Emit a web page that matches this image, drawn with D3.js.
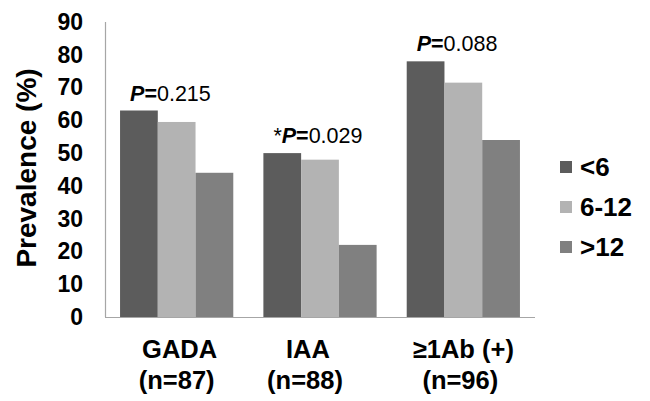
<!DOCTYPE html>
<html>
<head>
<meta charset="utf-8">
<script src="https://cdn.jsdelivr.net/npm/d3@7"></script>
<style>
  html, body { margin: 0; padding: 0; background: #fff; }
  svg { display: block; }
  text { font-family: "Liberation Sans", Arial, sans-serif; fill: #000; }
</style>
</head>
<body>
<svg id="chart" width="650" height="401"></svg>
<script>
// ---- data ----
const categories = ["GADA", "IAA", "\u22651Ab (+)"];
const sampleSizes = ["(n=87)", "(n=88)", "(n=96)"];
const seriesNames = ["<6", "6-12", ">12"];
const valuesLt6 = [63, 50, 78];
const values6to12 = [59.5, 48, 71.5];
const valuesGt12 = [44, 22, 54];
const pPrefix = ["", "*", ""];
const pValues = ["0.215", "0.029", "0.088"];
const yTicks = [0, 10, 20, 30, 40, 50, 60, 70, 80, 90];

const seriesValues = [valuesLt6, values6to12, valuesGt12];
const colors = ["#5c5c5c", "#b3b3b3", "#808080"];

const svg = d3.select("#chart");

const x0 = d3.scaleBand().domain(categories).range([105, 535])
  .paddingInner(0.21).paddingOuter(0.105);
const x1 = d3.scaleBand().domain(seriesNames).range([0, x0.bandwidth()]).padding(0);
const y = d3.scaleLinear().domain([0, 90]).range([317, 22]);

// y tick labels
const yAxis = d3.axisLeft(y).tickValues(yTicks).tickSize(0).tickPadding(0).tickFormat(d3.format("d"));
const gy = svg.append("g").attr("transform", "translate(83,0)").call(yAxis);
gy.select(".domain").remove();
gy.selectAll("text")
  .style("font-family", "'Liberation Sans', Arial, sans-serif")
  .style("font-size", "23px").style("font-weight", "bold").attr("fill", "#000");

// axis lines
svg.append("line").attr("x1", 105.5).attr("x2", 105.5).attr("y1", y(90)).attr("y2", y(0))
  .attr("stroke", "#a6a6a6").attr("stroke-width", 1.2);
svg.append("line").attr("x1", 105).attr("x2", 535).attr("y1", y(0) + 0.5).attr("y2", y(0) + 0.5)
  .attr("stroke", "#a6a6a6").attr("stroke-width", 1.2);

// bars
const groups = svg.append("g").selectAll("g").data(categories).join("g")
  .attr("transform", d => `translate(${x0(d)},0)`);
groups.selectAll("rect")
  .data((d, i) => seriesNames.map((s, j) => ({ s, v: seriesValues[j][i], j })))
  .join("rect")
  .attr("x", d => x1(d.s))
  .attr("width", x1.bandwidth())
  .attr("y", d => y(d.v))
  .attr("height", d => y(0) - y(d.v))
  .attr("fill", d => colors[d.j]);

// P annotations
categories.forEach((c, i) => {
  const maxV = d3.max(seriesValues, s => s[i]);
  const t = svg.append("text")
    .attr("x", x0(c) + 10)
    .attr("y", y(maxV) - 10)
    .style("font-size", "21.5px");
  if (pPrefix[i]) t.append("tspan").text(pPrefix[i]);
  t.append("tspan").style("font-weight", "bold").style("font-style", "italic").text("P");
  t.append("tspan").style("font-weight", "bold").text("=");
  t.append("tspan").text(pValues[i]);
});

// x labels
const labelDx = [3, -12, 0];
categories.forEach((c, i) => {
  const cx = x0(c) + x0.bandwidth() / 2 + labelDx[i];
  svg.append("text").attr("x", cx).attr("y", 358).attr("text-anchor", "middle")
    .style("font-size", "25.5px").style("font-weight", "bold").text(c);
  svg.append("text").attr("x", cx - 3).attr("y", 389).attr("text-anchor", "middle")
    .style("font-size", "25.5px").style("font-weight", "bold").text(sampleSizes[i]);
});

// y title
svg.append("text")
  .attr("transform", "translate(36,168) rotate(-90)")
  .attr("text-anchor", "middle")
  .style("font-size", "28px").style("font-weight", "bold")
  .text("Prevalence (%)");

// legend
const legend = svg.append("g").selectAll("g").data(seriesNames).join("g")
  .attr("transform", (d, i) => `translate(560,${167 + i * 40})`);
legend.append("rect").attr("x", 0).attr("y", -6).attr("width", 12).attr("height", 12)
  .attr("fill", (d, i) => colors[i]);
legend.append("text").attr("x", 20).attr("y", 0).attr("dy", "0.36em")
  .style("font-size", "26px").style("font-weight", "bold").text(d => d);
</script>
</body>
</html>
